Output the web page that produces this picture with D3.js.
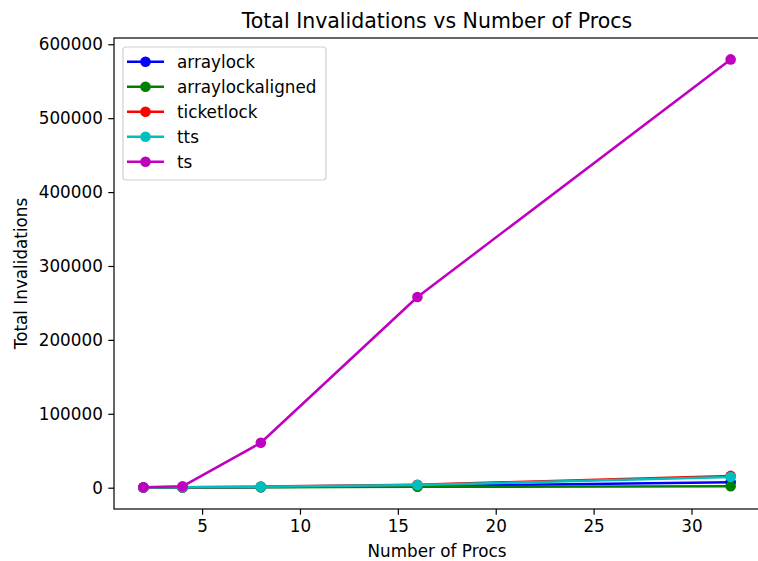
<!DOCTYPE html>
<html>
<head>
<meta charset="utf-8">
<script src="https://cdn.jsdelivr.net/npm/d3@7"></script>
<style>
  html, body { margin: 0; padding: 0; background: #fff; }
  svg { display: block; }
  text { font-family: "DejaVu Sans", sans-serif; fill: #000; }
</style>
</head>
<body>
<svg id="chart" width="758" height="561"></svg>
<script>
const procs = [2, 4, 8, 16, 32];
const seriesNames = ["arraylock", "arraylockaligned", "ticketlock", "tts", "ts"];
const seriesColors = ["#0000ff", "#008000", "#ff0000", "#00bfbf", "#bf00bf"];
const arraylock = [200, 300, 800, 2000, 7500];
const arraylockaligned = [150, 250, 600, 1200, 2000];
const ticketlock = [300, 500, 1500, 4000, 16000];
const tts = [250, 450, 1200, 3500, 14500];
const ts = [500, 1800, 60800, 258000, 579500];
const xTicks = [5, 10, 15, 20, 25, 30];
const yTicks = [0, 100000, 200000, 300000, 400000, 500000, 600000];
const titleText = "Total Invalidations vs Number of Procs";
const xLabel = "Number of Procs";
const yLabel = "Total Invalidations";

const allSeries = [arraylock, arraylockaligned, ticketlock, tts, ts];

const svg = d3.select("#chart");
const pLeft = 114, pRight = 760, pTop = 38, pBottom = 509;

// matplotlib-like 5% margins
const xmin = d3.min(procs), xmax = d3.max(procs);
const xm = (xmax - xmin) * 0.05;
const allVals = allSeries.flat();
const ymin = d3.min(allVals), ymax = d3.max(allVals);
const ym = (ymax - ymin) * 0.05;

const x = d3.scaleLinear().domain([xmin - xm, xmax + xm]).range([pLeft, pRight]);
const y = d3.scaleLinear().domain([ymin - ym, ymax + ym]).range([pBottom, pTop]);

const tickLen = 5.7;
const fs = 16.8;
const mr = 5.3;

// axes
const xAxis = d3.axisBottom(x).tickValues(xTicks).tickSize(tickLen).tickPadding(5.5).tickFormat(d3.format("d"));
const yAxis = d3.axisLeft(y).tickValues(yTicks).tickSize(tickLen).tickPadding(5.5).tickFormat(d3.format("d"));

const gx = svg.append("g").attr("transform", `translate(0,${pBottom})`).call(xAxis);
const gy = svg.append("g").attr("transform", `translate(${pLeft},0)`).call(yAxis);
[gx, gy].forEach(g => {
  g.select(".domain").remove();
  g.selectAll(".tick line").attr("stroke", "#000").attr("stroke-width", 1.2);
  g.selectAll(".tick text").style("font-size", fs + "px").style("font-family", "DejaVu Sans").attr("fill", "#000");
});

// lines & markers
const line = d3.line().x((d, i) => x(procs[i])).y(d => y(d));
allSeries.forEach((vals, si) => {
  const g = svg.append("g");
  g.append("path").datum(vals).attr("d", line)
    .attr("fill", "none").attr("stroke", seriesColors[si]).attr("stroke-width", 2.5)
    .attr("stroke-linejoin", "round").attr("stroke-linecap", "butt");
  g.selectAll("circle").data(vals).enter().append("circle")
    .attr("cx", (d, i) => x(procs[i])).attr("cy", d => y(d)).attr("r", mr)
    .attr("fill", seriesColors[si]);
});

// spines
svg.append("rect").attr("x", pLeft).attr("y", pTop).attr("width", pRight - pLeft).attr("height", pBottom - pTop)
  .attr("fill", "none").attr("stroke", "#000").attr("stroke-width", 1.2);

// title & labels
svg.append("text").attr("x", (pLeft + pRight) / 2).attr("y", 28).attr("text-anchor", "middle")
  .style("font-size", "20.5px").text(titleText);
svg.append("text").attr("x", (pLeft + pRight) / 2).attr("y", 557).attr("text-anchor", "middle")
  .style("font-size", fs + "px").text(xLabel);
svg.append("text").attr("transform", `translate(27,${(pTop + pBottom) / 2}) rotate(-90)`).attr("text-anchor", "middle")
  .style("font-size", fs + "px").text(yLabel);

// legend
const lg = svg.append("g");
lg.append("rect").attr("x", 123).attr("y", 47).attr("width", 203).attr("height", 133).attr("rx", 3)
  .attr("fill", "#fff").attr("fill-opacity", 0.8).attr("stroke", "#d0d0d0").attr("stroke-width", 1.2);
seriesNames.forEach((name, i) => {
  const cy = 61.7 + i * 25;
  lg.append("line").attr("x1", 127).attr("x2", 164).attr("y1", cy).attr("y2", cy)
    .attr("stroke", seriesColors[i]).attr("stroke-width", 2.5);
  lg.append("circle").attr("cx", 145.5).attr("cy", cy).attr("r", mr).attr("fill", seriesColors[i]);
  lg.append("text").attr("x", 177).attr("y", cy + 6).style("font-size", fs + "px").text(name);
});
</script>
</body>
</html>
